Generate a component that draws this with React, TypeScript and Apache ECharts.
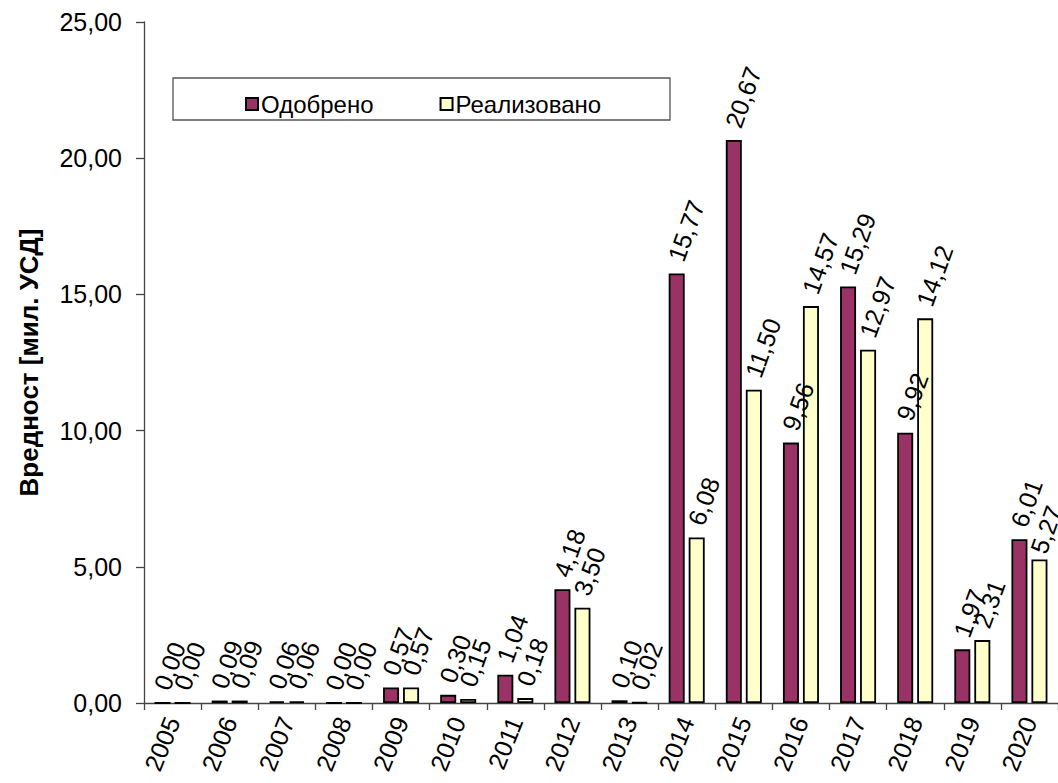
import React, { useEffect, useRef } from "react";
import * as echarts from "echarts";

const years = ["2005","2006","2007","2008","2009","2010","2011","2012","2013","2014","2015","2016","2017","2018","2019","2020"];
const approved = [0.0, 0.09, 0.06, 0.0, 0.57, 0.3, 1.04, 4.18, 0.1, 15.77, 20.67, 9.56, 15.29, 9.92, 1.97, 6.01];
const realized = [0.0, 0.09, 0.06, 0.0, 0.57, 0.15, 0.18, 3.5, 0.02, 6.08, 11.5, 14.57, 12.97, 14.12, 2.31, 5.27];
const seriesNames = ["Одобрено", "Реализовано"];
const yTitle = "Вредност [мил. УСД]";

const FONT = "Liberation Sans, Arial, sans-serif";
const fmt = (v: number) => v.toFixed(2).replace(".", ",");

export default function App() {
  const ref = useRef<HTMLDivElement>(null);
  useEffect(() => {
    if (!ref.current) return;
    const chart = echarts.init(ref.current, null, { renderer: "svg" });
    const label = {
      show: true,
      position: "top" as const,
      rotate: 70,
      align: "left" as const,
      verticalAlign: "middle" as const,
      distance: 17,
      offset: [-4, 0],
      fontFamily: FONT,
      fontSize: 25,
      color: "#000",
      formatter: (p: any) => fmt(p.value),
    };
    const lastIdx = realized.length - 1;
    const realizedData = realized.map((v, i) =>
      i === lastIdx ? { value: v, label: { offset: [-10, 2] } } : v
    );
    chart.setOption({
      animation: false,
      backgroundColor: "#fff",
      grid: { left: 144, right: -4, top: 22, bottom: 80, containLabel: false },
      graphic: [
        {
          type: "rect",
          shape: { x: 173, y: 78, width: 497, height: 42 },
          style: { fill: "#fff", stroke: "#555", lineWidth: 1.3 },
          z: 10,
        },
      ],
      legend: {
        left: 240,
        top: 87,
        z: 11,
        icon: "rect",
        itemWidth: 12,
        itemHeight: 12,
        itemGap: 66,
        textStyle: { fontFamily: FONT, fontSize: 24, color: "#000", padding: [0, 0, 0, -2] },
        data: seriesNames,
      },
      xAxis: {
        type: "category",
        data: years,
        axisLine: { lineStyle: { color: "#444", width: 1.3 } },
        axisTick: { show: true, length: 7, lineStyle: { color: "#444", width: 1.3 } },
        axisLabel: { rotate: 68, fontFamily: FONT, fontSize: 25, color: "#000", margin: 15, interval: 0 },
      },
      yAxis: {
        type: "value",
        min: 0,
        max: 25,
        interval: 5,
        name: yTitle,
        nameLocation: "middle",
        nameGap: 102,
        nameTextStyle: { fontFamily: FONT, fontSize: 26, fontWeight: "bold", color: "#000" },
        axisLine: { show: true, lineStyle: { color: "#444", width: 1.3 } },
        axisTick: { show: true, length: 8, lineStyle: { color: "#444", width: 1.3 } },
        splitLine: { show: false },
        axisLabel: { fontFamily: FONT, fontSize: 25, color: "#000", margin: 22, formatter: fmt },
      },
      series: [
        {
          name: seriesNames[0],
          type: "bar",
          data: approved,
          barWidth: 16,
          barGap: "25%",
          itemStyle: { color: "#993366", borderColor: "#000", borderWidth: 1.8 },
          label,
        },
        {
          name: seriesNames[1],
          type: "bar",
          data: realizedData,
          barWidth: 16,
          itemStyle: { color: "#FFFFCC", borderColor: "#000", borderWidth: 1.8 },
          label,
        },
      ],
    });
    return () => chart.dispose();
  }, []);
  return (
    <div
      ref={ref}
      style={{ position: "fixed", left: 0, top: 0, width: 1058, height: 783, overflow: "hidden" }}
    />
  );
}
